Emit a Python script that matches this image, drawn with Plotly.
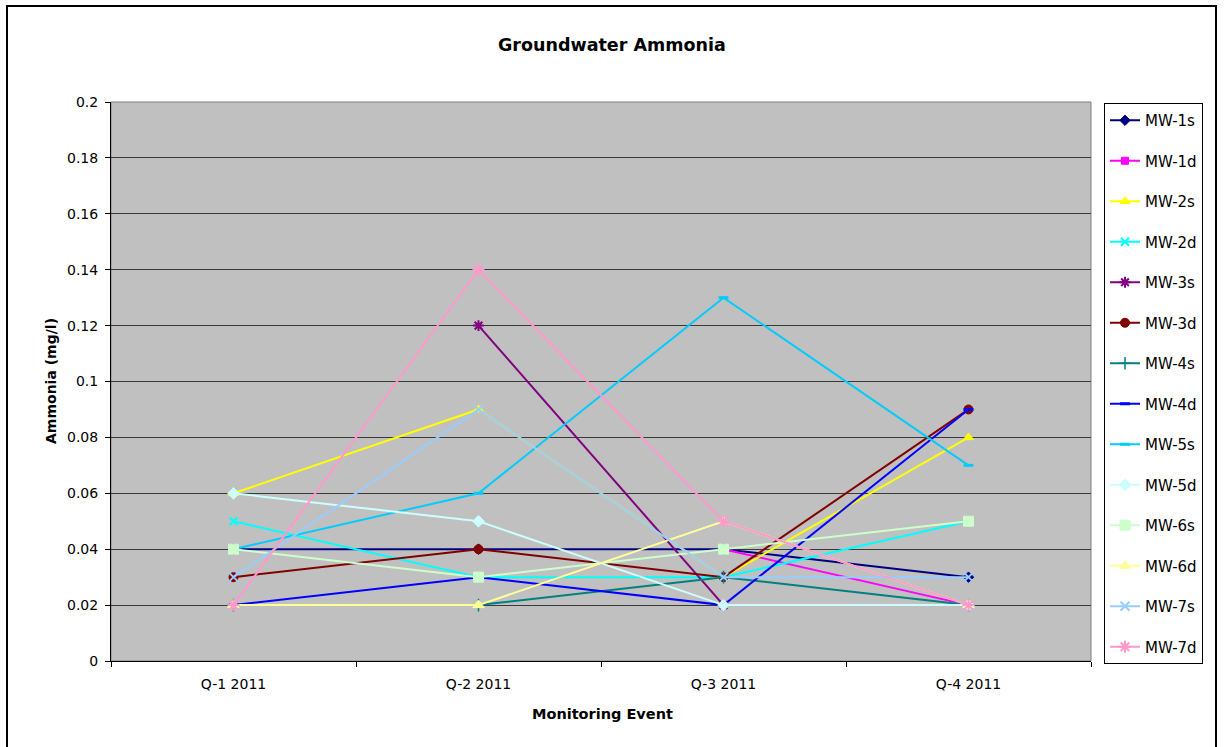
import plotly.graph_objects as go

categories = ["Q-1 2011", "Q-2 2011", "Q-3 2011", "Q-4 2011"]

series_names = ["MW-1s", "MW-1d", "MW-2s", "MW-2d", "MW-3s", "MW-3d", "MW-4s",
                "MW-4d", "MW-5s", "MW-5d", "MW-6s", "MW-6d", "MW-7s", "MW-7d"]

mw_1s = [0.04, 0.04, 0.04, 0.03]
mw_1d = [None, None, 0.04, 0.02]
mw_2s = [0.06, 0.09, 0.03, 0.08]
mw_2d = [0.05, 0.03, 0.03, 0.05]
mw_3s = [None, 0.12, 0.02, None]
mw_3d = [0.03, 0.04, 0.03, 0.09]
mw_4s = [0.02, 0.02, 0.03, 0.02]
mw_4d = [0.02, 0.03, 0.02, 0.09]
mw_5s = [0.04, 0.06, 0.13, 0.07]
mw_5d = [0.06, 0.05, 0.02, 0.02]
mw_6s = [0.04, 0.03, 0.04, 0.05]
mw_6d = [0.02, 0.02, 0.05, 0.02]
mw_7s = [0.03, 0.09, 0.03, 0.03]
mw_7d = [0.02, 0.14, 0.05, 0.02]

series_values = [mw_1s, mw_1d, mw_2s, mw_2d, mw_3s, mw_3d, mw_4s,
                 mw_4d, mw_5s, mw_5d, mw_6s, mw_6d, mw_7s, mw_7d]

y_ticks = [0, 0.02, 0.04, 0.06, 0.08, 0.1, 0.12, 0.14, 0.16, 0.18, 0.2]
y_tick_labels = ["0", "0.02", "0.04", "0.06", "0.08", "0.1", "0.12", "0.14", "0.16", "0.18", "0.2"]

styles = [
    ("#000080", "diamond", 8, 1),
    ("#FF00FF", "square", 7, 1),
    ("#FFFF00", "triangle-up", 9, 1),
    ("#00FFFF", "x-thin-open", 8, 2),
    ("#800080", "asterisk-open", 9, 2),
    ("#800000", "circle", 9, 1),
    ("#008080", "cross-thin-open", 9, 1.5),
    ("#0000FF", "line-ew-open", 7, 3),
    ("#00CCFF", "line-ew-open", 7, 3),
    ("#CCFFFF", "diamond", 9, 1),
    ("#CCFFCC", "square", 10, 1),
    ("#FFFF99", "triangle-up", 10, 1),
    ("#99CCFF", "x-thin-open", 9, 2),
    ("#FF99CC", "asterisk-open", 10, 2),
]

W, H = 1224, 747
L, R, T, B = 111, 1091, 102, 661


def px_x(p):
    return (p - L) / (R - L)


def px_y(p):
    return (B - p) / (B - T)


fig = go.Figure()
for i, (name, vals) in enumerate(zip(series_names, series_values)):
    color, sym, size, lw = styles[i]
    fig.add_trace(go.Scatter(
        x=categories, y=vals, name=name, mode="lines+markers",
        line=dict(color=color, width=2),
        marker=dict(symbol=sym, size=size, color=color,
                    line=dict(color=color, width=lw)),
        connectgaps=False,
        legendgroup=name,
    ))

fig.update_layout(
    width=W, height=H,
    margin=dict(l=L, r=W - R, t=T, b=H - B, pad=0),
    paper_bgcolor="white",
    plot_bgcolor="#C0C0C0",
    font=dict(family="DejaVu Sans", size=14, color="black"),
    showlegend=True,
    legend=dict(
        x=px_x(1104), y=px_y(103), xanchor="left", yanchor="top",
        bgcolor="white", bordercolor="black", borderwidth=1,
        font=dict(size=15, family="DejaVu Sans"),
        tracegroupgap=18, itemwidth=30, maxheight=700,
    ),
    xaxis=dict(
        type="category", range=[-0.5, 3.5],
        showline=True, linecolor="black", linewidth=1,
        ticks="outside", ticklen=5, tickcolor="black",
        tickson="boundaries", showgrid=False,
        ticklabelstandoff=10, mirror=False,
    ),
    yaxis=dict(
        range=[0, 0.2], tickvals=y_ticks, ticktext=y_tick_labels,
        showline=True, linecolor="black", linewidth=1,
        ticks="outside", ticklen=5, tickcolor="black",
        showgrid=True, gridcolor="#3a3a3a", gridwidth=1,
        zeroline=False, ticklabelstandoff=4,
    ),
    shapes=[
        dict(type="rect", xref="paper", yref="paper",
             x0=0, x1=1, y0=0, y1=1,
             line=dict(color="#808080", width=1), layer="below"),
        dict(type="rect", xref="paper", yref="paper",
             x0=px_x(7), x1=px_x(1216), y0=px_y(6), y1=px_y(760),
             line=dict(color="black", width=2)),
    ],
    annotations=[
        dict(text="<b>Groundwater Ammonia</b>", xref="paper", yref="paper",
             x=px_x(612), y=px_y(45), xanchor="center", yanchor="middle",
             showarrow=False, font=dict(size=17.5)),
        dict(text="<b>Monitoring Event</b>", xref="paper", yref="paper",
             x=px_x(602), y=px_y(714), xanchor="center", yanchor="middle",
             showarrow=False, font=dict(size=14.5)),
        dict(text="<b>Ammonia (mg/l)</b>", xref="paper", yref="paper",
             x=px_x(51), y=px_y(381), xanchor="center", yanchor="middle",
             showarrow=False, textangle=-90, font=dict(size=14)),
    ],
)

fig.write_html("out.html")
